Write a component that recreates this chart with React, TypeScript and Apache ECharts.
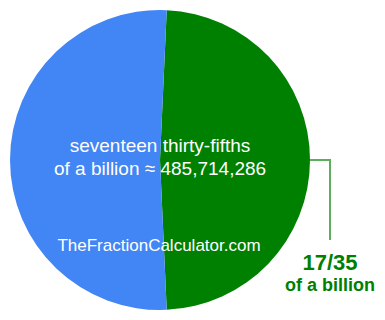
import React, { useEffect, useRef } from "react";
import * as echarts from "echarts";

const sliceNames = ["17/35", "rest"];
const sliceValues = [17, 18];
const sliceColors = ["#008000", "#4285F4"];
const centerLines = ["seventeen thirty-fifths", "of a billion ≈ 485,714,286"];
const watermark = "TheFractionCalculator.com";
const labelTitle = "17/35";
const labelSub = "of a billion";

const FONT = "'Liberation Sans', Arial, Helvetica, sans-serif";

export default function App() {
  const ref = useRef<HTMLDivElement>(null);
  useEffect(() => {
    if (!ref.current) return;
    const chart = echarts.init(ref.current, null, { renderer: "svg" });
    const total = sliceValues.reduce((a, b) => a + b, 0);
    const startAngle = (sliceValues[0] / total) * 180;
    chart.setOption({
      animation: false,
      backgroundColor: "#ffffff",
      series: [
        {
          type: "pie",
          center: [160, 160],
          radius: 150,
          startAngle,
          clockwise: true,
          silent: true,
          emphasis: { disabled: true },
          labelLayout: (params: any) => {
            if (params.dataIndex !== 0) return {};
            return {
              x: 330,
              y: 250,
              align: "center",
              verticalAlign: "top",
              labelLinePoints: [
                [309, 160],
                [330, 160],
                [330, 240],
              ],
            };
          },
          data: sliceNames.map((n, i) => ({
            name: n,
            value: sliceValues[i],
            itemStyle: { color: sliceColors[i] },
            label:
              i === 0
                ? {
                    show: true,
                    position: "outside",
                    overflow: "none",
                    formatter: `{a|${labelTitle}}\n{b|${labelSub}}`,
                    rich: {
                      a: {
                        fontFamily: FONT,
                        fontSize: 22,
                        fontWeight: "bold",
                        color: "#008000",
                        lineHeight: 24,
                        align: "center",
                      },
                      b: {
                        fontFamily: FONT,
                        fontSize: 18,
                        fontWeight: "bold",
                        color: "#008000",
                        lineHeight: 21,
                        align: "center",
                      },
                    },
                  }
                : { show: false },
            labelLine:
              i === 0
                ? { show: true, lineStyle: { color: "#5fae5f", width: 2 } }
                : { show: false },
          })),
        },
      ],
      graphic: [
        {
          type: "text",
          x: 160,
          y: 157,
          z: 100,
          silent: true,
          style: {
            text: centerLines.join("\n"),
            fill: "#ffffff",
            fontFamily: FONT,
            fontSize: 19,
            align: "center",
            verticalAlign: "middle",
            lineHeight: 23,
          },
        },
        {
          type: "text",
          x: 159,
          y: 245,
          z: 100,
          silent: true,
          style: {
            text: watermark,
            fill: "#ffffff",
            fontFamily: FONT,
            fontSize: 17,
            align: "center",
            verticalAlign: "middle",
          },
        },
      ],
    });
    return () => chart.dispose();
  }, []);
  return (
    <div
      ref={ref}
      style={{ position: "absolute", left: 0, top: 0, width: 385, height: 320 }}
    />
  );
}
